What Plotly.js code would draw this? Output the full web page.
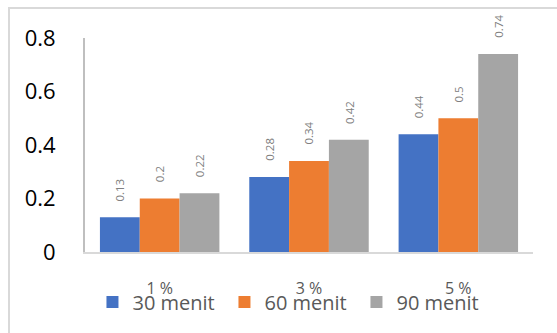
<!DOCTYPE html>
<html>
<head>
<meta charset="utf-8">
<script src="https://cdn.plot.ly/plotly-3.0.1.min.js"></script>
<style>
  html, body { margin: 0; padding: 0; background: #fff; }
  #wrap { position: relative; width: 557px; height: 333px; overflow: hidden; }
  #chart { position: absolute; left: 0; top: 0; width: 557px; height: 333px; }
  #frame { position: absolute; left: 8px; top: 7px; width: 600px; height: 400px;
           border-left: 2px solid #d9d9d9; border-top: 2px solid #d9d9d9; pointer-events: none; }
</style>
</head>
<body>
<div id="wrap">
  <div id="chart"></div>
  <div id="frame"></div>
</div>
<script>
const categories = ['1 %', '3 %', '5 %'];
const seriesNames = ['30 menit', '60 menit', '90 menit'];
const values30 = [0.13, 0.28, 0.44];
const values60 = [0.2, 0.34, 0.5];
const values90 = [0.22, 0.42, 0.74];
const yTicks = [0, 0.2, 0.4, 0.6, 0.8];
const yTickLabels = ['0', '0.2', '0.4', '0.6', '0.8'];

const allValues = [values30, values60, values90];
const colors = ['#4472C4', '#ED7D31', '#A5A5A5'];
const bargap = 0.2;

const traces = allValues.map((vals, i) => ({
  type: 'bar',
  name: seriesNames[i],
  x: categories,
  y: vals,
  marker: { color: colors[i] },
  hoverinfo: 'none'
}));

const annotations = [];
allValues.forEach((vals, i) => {
  vals.forEach((v, j) => {
    annotations.push({
      xref: 'x', yref: 'y',
      x: j + (i - 1) * (1 - bargap) / 3,
      y: v,
      text: String(v),
      showarrow: false,
      textangle: -90,
      xanchor: 'center',
      yanchor: 'bottom',
      yshift: 14,
      font: { family: 'Open Sans, sans-serif', size: 11.5, color: '#808080' }
    });
  });
});

const layout = {
  width: 557, height: 333,
  margin: { l: 85, r: 24, t: 38, b: 81, autoexpand: false },
  paper_bgcolor: '#ffffff', plot_bgcolor: '#ffffff',
  barmode: 'group',
  bargap: bargap,
  bargroupgap: 0,
  showlegend: true,
  legend: {
    orientation: 'h',
    xref: 'container', yref: 'container',
    x: 0.166, xanchor: 'left',
    y: 0.093, yanchor: 'middle',
    font: { family: 'Open Sans, sans-serif', size: 20, color: '#595959' },
    entrywidth: 87, entrywidthmode: 'pixels',
    itemwidth: 30,
    bgcolor: 'rgba(0,0,0,0)'
  },
  xaxis: {
    type: 'category',
    showgrid: false, zeroline: false,
    showline: true, linecolor: '#d9d9d9', linewidth: 2,
    ticks: '',
    ticklabelstandoff: 21,
    tickfont: { family: 'Open Sans, sans-serif', size: 16, color: '#595959' }
  },
  yaxis: {
    range: [0, 0.8],
    tickvals: yTicks, ticktext: yTickLabels,
    showgrid: false, zeroline: false,
    showline: true, linecolor: '#bfbfbf', linewidth: 2,
    ticks: '',
    ticklabelstandoff: 23,
    tickfont: { family: 'Open Sans, sans-serif', size: 22, color: '#000000' }
  },
  annotations: annotations
};

Plotly.newPlot('chart', traces, layout, { staticPlot: true, displayModeBar: false });
</script>
</body>
</html>
